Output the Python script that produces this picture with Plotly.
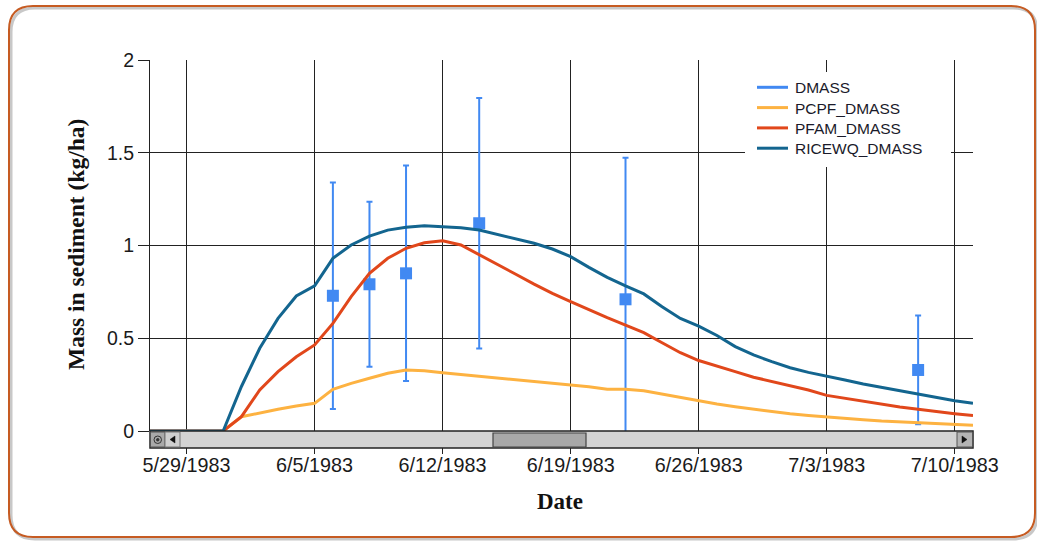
import pandas as pd
import plotly.graph_objects as go

# ---------------- data ----------------
dates = pd.date_range('1983-05-27', '1983-07-11', freq='D').strftime('%Y-%m-%d').tolist()

pcpf_dmass = [0, 0, 0, 0, 0,
              0.077, 0.099, 0.117, 0.135, 0.149, 0.225, 0.257, 0.284, 0.311, 0.329,
              0.325, 0.314, 0.305, 0.293, 0.284, 0.275, 0.266, 0.260, 0.252, 0.239,
              0.225, 0.225, 0.217, 0.199, 0.178, 0.160, 0.145, 0.131, 0.117, 0.104,
              0.093, 0.084, 0.075, 0.068, 0.061, 0.054, 0.049, 0.043, 0.038, 0.034, 0.031]

pfam_dmass = [0, 0, 0, 0, 0,
              0.077, 0.221, 0.320, 0.400, 0.464, 0.580, 0.724, 0.850, 0.931, 0.985,
              1.015, 1.026, 1.003, 0.949, 0.895, 0.845, 0.792, 0.742, 0.697, 0.652,
              0.611, 0.571, 0.530, 0.476, 0.422, 0.380, 0.352, 0.320, 0.290, 0.266,
              0.243, 0.221, 0.192, 0.176, 0.160, 0.144, 0.129, 0.117, 0.104, 0.093, 0.083]

ricewq_dmass = [0, 0, 0, 0, 0,
                0.240, 0.446, 0.607, 0.728, 0.782, 0.931, 1.003, 1.051, 1.083, 1.098,
                1.107, 1.101, 1.096, 1.083, 1.060, 1.039, 1.012, 0.981, 0.940, 0.882,
                0.828, 0.782, 0.739, 0.670, 0.607, 0.565, 0.515, 0.455, 0.410, 0.374,
                0.341, 0.316, 0.297, 0.275, 0.253, 0.235, 0.216, 0.198, 0.181, 0.163, 0.149]

obs_dates = ['1983-06-06', '1983-06-08', '1983-06-10', '1983-06-14', '1983-06-22', '1983-07-08']
obs_dmass = [0.729, 0.791, 0.850, 1.120, 0.710, 0.329]
obs_err = [0.611, 0.445, 0.581, 0.675, 0.763, 0.293]

tick_dates = ['1983-05-29', '1983-06-05', '1983-06-12', '1983-06-19',
              '1983-06-26', '1983-07-03', '1983-07-10']
tick_labels = ['5/29/1983', '6/5/1983', '6/12/1983', '6/19/1983',
               '6/26/1983', '7/3/1983', '7/10/1983']
y_ticks = [0, 0.5, 1, 1.5, 2]
y_labels = ['0', '0.5', '1', '1.5', '2']

series_names = ['DMASS', 'PCPF_DMASS', 'PFAM_DMASS', 'RICEWQ_DMASS']

# ---------------- styling ----------------
W, H = 1037, 541
PL, PR, PT, PB = 150, 973, 60, 431   # plot area in pixels

C_OBS = '#4189f2'
C_PCPF = '#fdb241'
C_PFAM = '#e1471b'
C_RICE = '#13658f'
series_colors = [C_OBS, C_PCPF, C_PFAM, C_RICE]
GRID = '#222222'
SANS = 'Liberation Sans, Arial, sans-serif'
SERIF = 'Liberation Serif, Times New Roman, serif'


def px(xp):
    return (xp - PL) / (PR - PL)


def py(yp):
    return (PB - yp) / (PB - PT)


fig = go.Figure()

fig.add_trace(go.Scatter(
    x=obs_dates, y=obs_dmass, mode='markers', name=series_names[0], showlegend=False,
    marker=dict(symbol='square', size=12, color=C_OBS),
    error_y=dict(type='data', array=obs_err, visible=True, color=C_OBS,
                 thickness=2, width=3)))
fig.add_trace(go.Scatter(x=dates, y=pcpf_dmass, mode='lines', name=series_names[1],
                         showlegend=False, line=dict(color=C_PCPF, width=3)))
fig.add_trace(go.Scatter(x=dates, y=pfam_dmass, mode='lines', name=series_names[2],
                         showlegend=False, line=dict(color=C_PFAM, width=3)))
fig.add_trace(go.Scatter(x=dates, y=ricewq_dmass, mode='lines', name=series_names[3],
                         showlegend=False, line=dict(color=C_RICE, width=3)))

shapes = []
annotations = []

# outer rounded frame (shadow + border)
def frame_path(L, T, R, B, r):
    return (f"M {px(L + r)},{py(T)} L {px(R - r)},{py(T)} "
            f"Q {px(R)},{py(T)} {px(R)},{py(T + r)} L {px(R)},{py(B - r)} "
            f"Q {px(R)},{py(B)} {px(R - r)},{py(B)} L {px(L + r)},{py(B)} "
            f"Q {px(L)},{py(B)} {px(L)},{py(B - r)} L {px(L)},{py(T + r)} "
            f"Q {px(L)},{py(T)} {px(L + r)},{py(T)} Z")

shapes.append(dict(type='path', xref='paper', yref='paper', layer='below',
                   path=frame_path(11, 8, 1037, 539, 24),
                   line=dict(color='#c8c8c8', width=3)))
shapes.append(dict(type='path', xref='paper', yref='paper', layer='below',
                   path=frame_path(9, 6, 1035, 537, 24),
                   line=dict(color='#c65b22', width=2), fillcolor='rgba(0,0,0,0)'))


def rect(x0, y0, x1, y1, fill, line='#333333', lw=1):
    shapes.append(dict(type='rect', xref='paper', yref='paper', layer='above',
                       x0=px(x0), x1=px(x1), y0=py(y1), y1=py(y0),
                       fillcolor=fill, line=dict(color=line, width=lw)))


# scrollbar
rect(150, 431, 973, 448, '#d3d3d3', '#222222', 1.5)
rect(150.5, 432, 165, 447, '#a9a9a9', '#555555', 1)
rect(165, 432, 180, 447, '#cfcfcf', '#777777', 1)
rect(493, 433, 586, 447, '#a8a8a8', '#444444', 1.2)
rect(957, 432, 972.5, 447, '#b4b4b4', '#555555', 1)
shapes.append(dict(type='circle', xref='paper', yref='paper', layer='above',
                   x0=px(154), x1=px(161.5), y0=py(443.5), y1=py(436),
                   line=dict(color='#333333', width=1), fillcolor='rgba(0,0,0,0)'))
shapes.append(dict(type='circle', xref='paper', yref='paper', layer='above',
                   x0=px(156.5), x1=px(159), y0=py(441), y1=py(438.5),
                   line=dict(color='#333333', width=1), fillcolor='#333333'))
shapes.append(dict(type='path', xref='paper', yref='paper', layer='above',
                   path=f"M {px(170)},{py(439.5)} L {px(175)},{py(436)} L {px(175)},{py(443)} Z",
                   fillcolor='#111111', line=dict(color='#111111', width=0.5)))
shapes.append(dict(type='path', xref='paper', yref='paper', layer='above',
                   path=f"M {px(967)},{py(439.5)} L {px(962)},{py(436)} L {px(962)},{py(443)} Z",
                   fillcolor='#111111', line=dict(color='#111111', width=0.5)))

# legend (drawn as a box with line samples and real text)
rect(745, 72, 951, 167, 'white', 'white', 0)
for i, (nm, col) in enumerate(zip(series_names, series_colors)):
    yy = 87.3 + i * 20.3
    shapes.append(dict(type='line', xref='paper', yref='paper', layer='above',
                       x0=px(757), x1=px(788), y0=py(yy), y1=py(yy),
                       line=dict(color=col, width=3)))
    annotations.append(dict(text=nm, xref='paper', yref='paper', x=px(793), y=py(yy + 0.5),
                            xanchor='left', yanchor='middle', showarrow=False,
                            font=dict(family=SANS, size=15.5, color='#1a1a2a')))

annotations += [
    dict(text='<b>Mass in sediment (kg/ha)</b>', xref='paper', yref='paper',
         x=px(76), y=py(245), textangle=-90, showarrow=False,
         xanchor='center', yanchor='middle',
         font=dict(family=SERIF, size=23.5, color='#111111')),
    dict(text='<b>Date</b>', xref='paper', yref='paper',
         x=px(560), y=py(501), showarrow=False,
         xanchor='center', yanchor='middle',
         font=dict(family=SERIF, size=23, color='#111111')),
]

fig.update_layout(
    width=W, height=H, autosize=False,
    margin=dict(l=PL, r=W - PR, t=PT, b=H - PB, pad=0),
    paper_bgcolor='white', plot_bgcolor='white',
    showlegend=False,
    xaxis=dict(type='date', range=['1983-05-27', '1983-07-11'],
               tickmode='array', tickvals=tick_dates, ticktext=tick_labels,
               ticks='outside', ticklen=22, tickwidth=1, tickcolor=GRID,
               ticklabelstandoff=-6,
               showgrid=True, gridcolor=GRID, gridwidth=1,
               showline=False, zeroline=False, fixedrange=True,
               tickfont=dict(family=SANS, size=19.8, color='#1a1a1a')),
    yaxis=dict(range=[0, 2], tickmode='array', tickvals=y_ticks, ticktext=y_labels,
               ticks='outside', ticklen=11, tickwidth=1, tickcolor=GRID,
               showgrid=True, gridcolor=GRID, gridwidth=1,
               showline=True, linecolor=GRID, linewidth=1, zeroline=False,
               fixedrange=True,
               tickfont=dict(family=SANS, size=19.5, color='#1a1a1a')),
    shapes=shapes,
    annotations=annotations,
)

fig.write_html('out.html')
